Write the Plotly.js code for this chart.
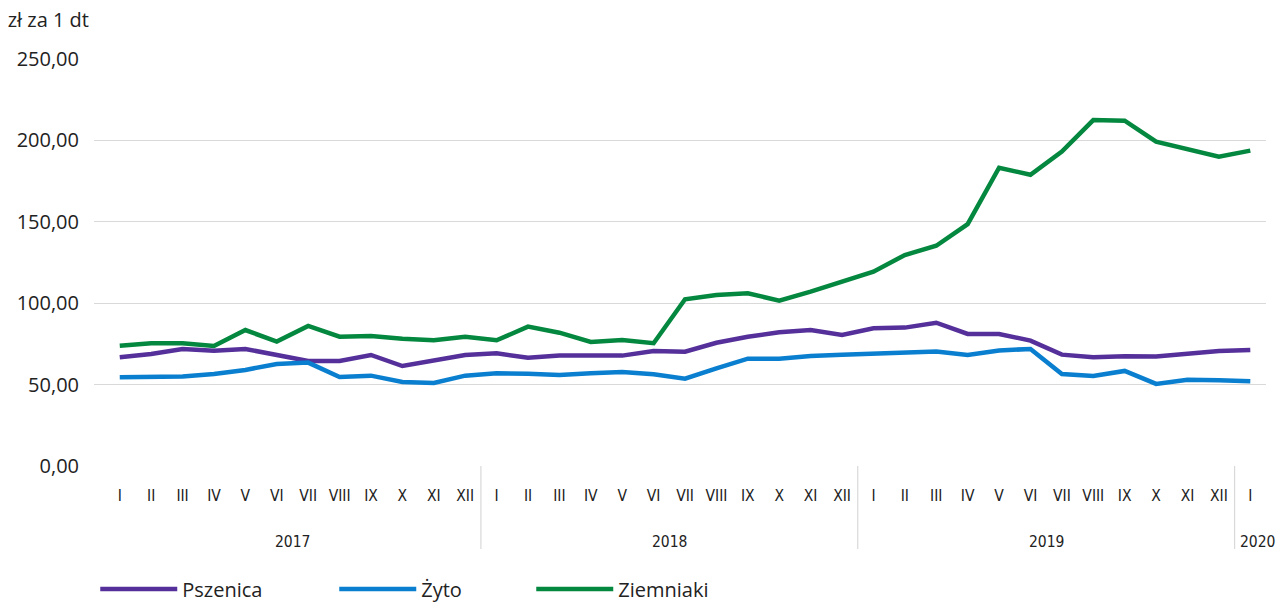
<!DOCTYPE html>
<html>
<head>
<meta charset="utf-8">
<script src="https://cdn.plot.ly/plotly-3.0.1.min.js"></script>
<style>
  html, body { margin: 0; padding: 0; background: #fff; }
  #chart { width: 1282px; height: 602px; }
</style>
</head>
<body>
<div id="chart"></div>
<script>
// Category labels
const monthLabels = ['I','II','III','IV','V','VI','VII','VIII','IX','X','XI','XII'];
const yearLabels = ['2017','2018','2019','2020'];
const months = [].concat(monthLabels, monthLabels, monthLabels, ['I']);
const years = [].concat(
  monthLabels.map(() => yearLabels[0]),
  monthLabels.map(() => yearLabels[1]),
  monthLabels.map(() => yearLabels[2]),
  [yearLabels[3]]
);
const periods = months.map((m, i) => m + ' ' + years[i]);

// Series values (zł za 1 dt)
const pszenica = [66.8, 68.8, 71.9, 70.8, 71.9, 68.2, 64.5, 64.5, 68.2, 61.4, 64.5, 68.2,
                  69.2, 66.5, 67.8, 67.8, 67.8, 70.6, 70.2, 75.7, 79.4, 82.1, 83.5, 80.5,
                  84.6, 85.0, 88.0, 81.1, 81.1, 77.0, 68.4, 66.8, 67.4, 67.2, 69.2, 70.6,
                  71.3];
const zyto =     [54.5, 54.9, 55.0, 56.5, 59.0, 62.7, 63.5, 54.7, 55.5, 51.6, 51.0, 55.5,
                  56.9, 56.7, 55.9, 56.9, 57.7, 56.3, 53.6, 60.0, 65.9, 65.9, 67.6, 68.4,
                  69.2, 69.4, 70.4, 68.2, 71.0, 71.9, 56.5, 55.3, 58.4, 50.4, 53.0, 52.6,
                  52.0];
const ziemniaki = [73.9, 75.4, 75.4, 73.7, 83.5, 76.4, 86.0, 79.4, 79.9, 78.2, 77.2, 79.4,
                   77.2, 85.6, 81.9, 76.2, 77.4, 75.4, 102.4, 105.0, 106.1, 101.6, 107.1, 113.2,
                   119.4, 129.6, 135.3, 148.6, 183.2, 178.9, 193.1, 212.5, 212.1, 199.2, 194.7, 190.0,
                   193.7];

const seriesNames = ['Pszenica', 'Żyto', 'Ziemniaki'];
const seriesValues = [pszenica, zyto, ziemniaki];

// Styles
const seriesColors = ['#55309a', '#0a7fcf', '#04873f'];
const legendWidths = [147, 105, 110];
const textFont = '"Open Sans", "Noto Sans", sans-serif';
const narrowFont = '"Liberation Sans Narrow", "DejaVu Sans Condensed", "Open Sans", sans-serif';
const textColor = '#222222';
const gridColor = '#d9d9d9';

const traces = seriesValues.map((vals, i) => ({
  type: 'scatter',
  mode: 'lines',
  name: seriesNames[i],
  x: periods,
  y: vals,
  line: { color: seriesColors[i], width: 4.5 },
  legendwidth: legendWidths[i],
  hoverinfo: 'skip'
}));

// Year group labels and dividers, positioned from the category arrays
const shapes = [];
const annotations = [];
let start = 0;
yearLabels.forEach((yr, gi) => {
  let end = start;
  while (end + 1 < years.length && years[end + 1] === yr) end++;
  const isLast = gi === yearLabels.length - 1;
  annotations.push({
    text: yr, xref: 'x', yref: 'paper',
    x: isLast ? start - 0.5 : (start + end) / 2, y: -0.187,
    xanchor: isLast ? 'left' : 'center', yanchor: 'middle', showarrow: false,
    xshift: isLast ? 3 : 0,
    font: { family: narrowFont, size: 15.5, color: textColor }
  });
  if (!isLast) {
    shapes.push({
      type: 'line', xref: 'x', yref: 'paper',
      x0: end + 0.5, x1: end + 0.5, y0: 0, y1: -0.204,
      line: { color: gridColor, width: 1.2 }
    });
  }
  start = end + 1;
});

const layout = {
  width: 1282,
  height: 602,
  margin: { l: 94, r: 16, t: 59, b: 136 },
  paper_bgcolor: '#ffffff',
  plot_bgcolor: '#ffffff',
  separators: ', ',
  font: { family: textFont, color: textColor, size: 19 },
  title: {
    text: 'zł za 1 dt',
    font: { family: textFont, size: 20, color: textColor },
    xref: 'container', yref: 'container',
    x: 0.006, xanchor: 'left',
    y: 0.966, yanchor: 'middle'
  },
  xaxis: {
    type: 'category',
    range: [-0.82, 36.5],
    tickvals: periods,
    ticktext: months,
    showgrid: false,
    zeroline: false,
    showline: false,
    ticks: '',
    ticklabelstandoff: 18,
    tickfont: { family: narrowFont, size: 15.5, color: textColor }
  },
  yaxis: {
    range: [0, 250],
    dtick: 50,
    tickformat: '.2f',
    showgrid: true,
    gridcolor: gridColor,
    gridwidth: 1.3,
    zeroline: false,
    showline: false,
    ticklabelstandoff: 14,
    tickfont: { family: textFont, size: 20, color: textColor }
  },
  showlegend: true,
  legend: {
    orientation: 'h',
    xref: 'container', yref: 'container',
    x: 0.0743, xanchor: 'left',
    y: 0.0216, yanchor: 'middle',
    itemwidth: 77,
    font: { family: textFont, size: 20, color: textColor },
    bgcolor: 'rgba(0,0,0,0)'
  },
  shapes: shapes,
  annotations: annotations
};

Plotly.newPlot('chart', traces, layout, { staticPlot: true, displayModeBar: false });
</script>
</body>
</html>
